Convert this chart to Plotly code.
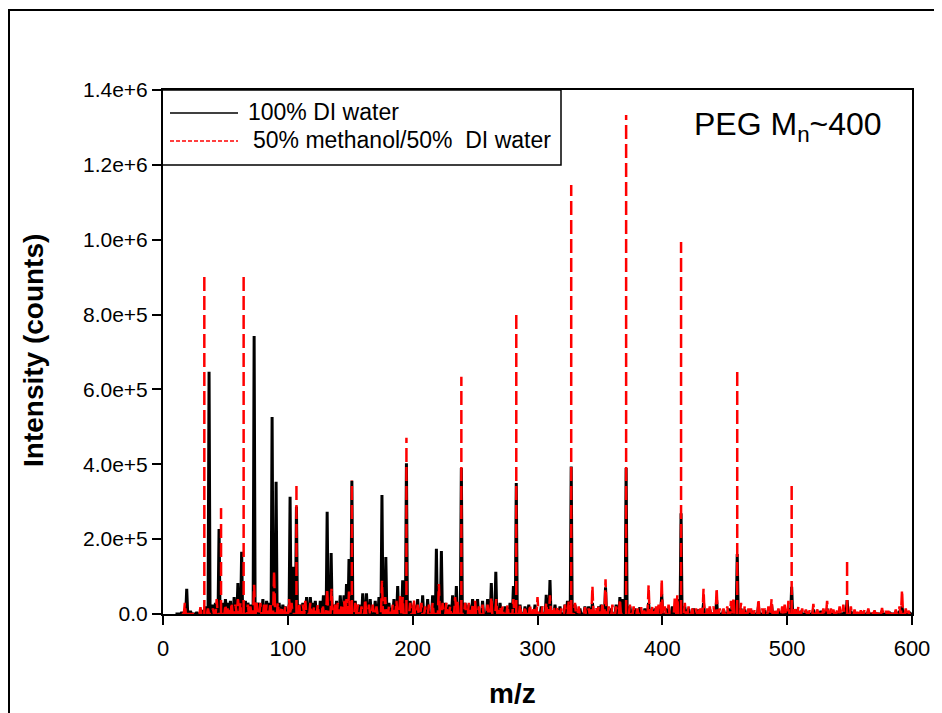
import plotly.graph_objects as go

# ---------------- data ----------------
# 100% DI water : peak m/z and intensity (counts)
water_mz = [15, 19, 22, 27, 31, 34, 36.9, 40, 42, 44.9, 48, 50, 52, 54, 57, 60, 63, 66, 68, 70,
            73, 76, 78, 80, 83, 85, 87.4, 90.6, 93, 96, 98, 101.8, 104.6, 106.9, 110, 112, 115, 118,
            120, 122, 126, 128.5, 131.5, 134.7, 137, 139, 142, 145, 147, 149, 151.3, 154, 157, 160,
            163, 166, 170, 173, 175.4, 178.5, 181, 185, 188, 192, 195, 198, 201, 204, 208, 212, 216,
            219, 223, 226, 229, 232, 235, 239, 242, 245, 248, 252, 256, 260, 263, 266.6, 270, 274,
            278, 280.7, 283, 286, 290, 293, 298, 303, 307, 310, 314, 318, 322, 324, 327, 330, 334,
            338, 341, 344, 349, 351, 354.5, 359, 363, 366, 368, 371, 374, 378, 382, 386, 389, 394,
            397, 399.5, 404, 408, 412, 415, 418, 421, 425, 429, 433, 438, 443.5, 449, 453, 456, 460,
            463, 466, 471, 477, 482, 487.5, 493, 498, 501, 503.6, 507, 511, 515, 521, 527, 532, 537,
            542, 546, 548, 551, 554, 560, 565, 570, 576, 582, 587, 590, 592, 595, 598]
water_int = [5e3, 67e3, 8e3, 5e3, 10e3, 20e3, 647e3, 25e3, 30e3, 227e3, 30e3, 40e3, 30e3, 35e3, 45e3,
             83e3, 166e3, 35e3, 30e3, 25e3, 743e3, 30e3, 25e3, 40e3, 35e3, 30e3, 526e3, 353e3, 30e3,
             25e3, 20e3, 313e3, 126e3, 287e3, 25e3, 30e3, 45e3, 45e3, 30e3, 35e3, 35e3, 50e3, 273e3,
             163e3, 25e3, 35e3, 50e3, 50e3, 80e3, 147e3, 356e3, 35e3, 25e3, 55e3, 55e3, 40e3, 35e3,
             45e3, 318e3, 152e3, 30e3, 40e3, 75e3, 90e3, 403e3, 35e3, 25e3, 40e3, 50e3, 40e3, 50e3,
             174e3, 168e3, 30e3, 25e3, 50e3, 75e3, 390e3, 30e3, 25e3, 40e3, 40e3, 35e3, 40e3, 83e3,
             113e3, 30e3, 20e3, 30e3, 75e3, 350e3, 25e3, 20e3, 25e3, 25e3, 20e3, 51e3, 91e3, 25e3,
             20e3, 25e3, 35e3, 394e3, 25e3, 15e3, 20e3, 20e3, 30e3, 20e3, 25e3, 71e3, 15e3, 25e3,
             45e3, 40e3, 390e3, 20e3, 15e3, 18e3, 15e3, 30e3, 15e3, 20e3, 53e3, 15e3, 20e3, 40e3,
             269e3, 20e3, 15e3, 15e3, 12e3, 30e3, 12e3, 37e3, 12e3, 15e3, 25e3, 160e3, 15e3, 12e3,
             10e3, 20e3, 10e3, 25e3, 10e3, 12e3, 15e3, 73e3, 12e3, 8e3, 8e3, 12e3, 8e3, 15e3, 6e3,
             8e3, 10e3, 37e3, 8e3, 6e3, 5e3, 8e3, 5e3, 8e3, 5e3, 6e3, 8e3, 20e3, 6e3, 5e3]

# 50% methanol / 50% DI water : peak m/z and intensity (counts)
meoh_mz = [17.5, 30, 33.1, 36, 40, 43, 46.5, 50, 52, 55, 58, 60, 62, 64.6, 68, 70, 73, 75, 78, 81,
           83, 86, 89, 92, 95, 98, 101, 103, 106.9, 109, 112, 114, 118, 121, 124, 128, 131.5, 135,
           138, 140, 143, 145, 147, 149, 151.3, 154, 156, 159, 162, 165, 168, 171, 175.4, 178, 181,
           184, 187, 190, 192, 195, 198, 201, 204, 207, 210, 213, 216, 221, 224, 227, 230, 234, 236,
           239, 242, 245, 248, 250, 253, 256, 260, 263, 267, 270, 272, 276, 280.7, 283, 286, 290,
           294, 297, 300, 304, 307, 310, 313, 316, 319, 322, 325, 327, 330, 333, 338, 341, 344, 347,
           349, 352, 354.5, 357, 360, 363, 366, 371, 374, 377, 380, 383, 386, 389, 392, 395, 397,
           399.5, 402, 405, 410, 412, 415, 418, 421, 424, 427, 430, 433, 436, 438, 441, 443.5, 446,
           449, 452, 455, 457, 460, 463, 466, 469, 471, 474, 477, 480, 482, 485, 487.5, 490, 493,
           496, 498, 501, 503.6, 506, 509, 512, 515, 518, 521, 524, 526, 529, 532, 535, 537, 540,
           542, 545, 548, 551, 554, 557, 559, 562, 565, 568, 570, 573, 576, 579, 581, 584, 587, 590,
           592, 595, 597]
meoh_int = [30e3, 18e3, 906e3, 15e3, 15e3, 40e3, 283e3, 25e3, 20e3, 30e3, 25e3, 40e3, 30e3, 906e3,
            25e3, 20e3, 78e3, 30e3, 30e3, 25e3, 25e3, 30e3, 115e3, 30e3, 20e3, 20e3, 40e3, 30e3,
            345e3, 30e3, 25e3, 35e3, 30e3, 20e3, 25e3, 25e3, 67e3, 67e3, 25e3, 30e3, 25e3, 35e3,
            40e3, 60e3, 357e3, 30e3, 25e3, 20e3, 40e3, 25e3, 25e3, 20e3, 89e3, 45e3, 20e3, 25e3,
            35e3, 50e3, 45e3, 471e3, 30e3, 40e3, 25e3, 30e3, 20e3, 25e3, 30e3, 80e3, 30e3, 30e3,
            20e3, 45e3, 35e3, 634e3, 30e3, 30e3, 25e3, 35e3, 20e3, 25e3, 25e3, 45e3, 40e3, 20e3,
            20e3, 25e3, 40e3, 812e3, 25e3, 20e3, 25e3, 20e3, 45e3, 20e3, 30e3, 50e3, 20e3, 20e3,
            15e3, 25e3, 35e3, 1146e3, 30e3, 20e3, 18e3, 15e3, 75e3, 20e3, 20e3, 30e3, 93e3, 20e3,
            25e3, 20e3, 40e3, 1333e3, 25e3, 20e3, 15e3, 18e3, 15e3, 77e3, 20e3, 20e3, 25e3, 93e3,
            20e3, 25e3, 45e3, 50e3, 994e3, 30e3, 20e3, 15e3, 15e3, 20e3, 67e3, 15e3, 20e3, 20e3,
            70e3, 15e3, 15e3, 20e3, 35e3, 45e3, 657e3, 30e3, 20e3, 15e3, 15e3, 12e3, 40e3, 15e3,
            15e3, 20e3, 40e3, 15e3, 15e3, 20e3, 25e3, 35e3, 351e3, 20e3, 20e3, 15e3, 12e3, 10e3,
            27e3, 12e3, 10e3, 15e3, 35e3, 15e3, 12e3, 10e3, 20e3, 25e3, 147e3, 20e3, 12e3, 10e3,
            10e3, 12e3, 15e3, 8e3, 10e3, 10e3, 16e3, 8e3, 8e3, 10e3, 12e3, 20e3, 64e3, 15e3, 10e3]

series_names = ["100% DI water", "50% methanol/50%\u00a0 DI water"]
x_ticks = [0, 100, 200, 300, 400, 500, 600]
y_ticks = [0, 2e5, 4e5, 6e5, 8e5, 1.0e6, 1.2e6, 1.4e6]
y_ticklabels = ["0.0", "2.0e+5", "4.0e+5", "6.0e+5", "8.0e+5", "1.0e+6", "1.2e+6", "1.4e+6"]

# ---------------- build line paths from the peak lists ----------------
HW = 0.8  # half width of a peak (m/z)


def peak_path(mzs, ints, start=10, end=600):
    xs, ys = [start], [0]
    for m, h in zip(mzs, ints):
        xs += [m - HW, m, m + HW]
        ys += [0, h, 0]
    xs.append(end)
    ys.append(0)
    return xs, ys


BIG = 120e3
small_m = [m for m, h in zip(meoh_mz, meoh_int) if h < BIG]
small_h = [h for m, h in zip(meoh_mz, meoh_int) if h < BIG]
rx, ry = peak_path(small_m, small_h, start=15, end=599)
for m, h in zip(meoh_mz, meoh_int):
    if h >= BIG:
        rx += [None, m, m]
        ry += [None, 0, h]

bx, by = peak_path(water_mz, water_int)

fig = go.Figure()
fig.add_trace(go.Scatter(x=bx, y=by, mode="lines", name=series_names[0],
                         line=dict(color="black", width=3), showlegend=False))
fig.add_trace(go.Scatter(x=rx, y=ry, mode="lines", name=series_names[1],
                         line=dict(color="#ff0000", width=2.5, dash="14px,5px"),
                         connectgaps=False, showlegend=False))

# page body has an 8px margin: screen coordinates -> figure coordinates
OFF = 8
W, H = 934, 705
L, T = 163 - OFF, 90 - OFF
R = W - (912 - OFF)
B = H - (614 - OFF)
PW, PH = W - L - R, H - T - B


def px(x):
    return (x - OFF - L) / PW


def py(y):
    return (H - B - (y - OFF)) / PH


font = "Arial, Liberation Sans, sans-serif"
shapes = [
    # outer figure frame
    dict(type="rect", xref="paper", yref="paper", x0=px(9), x1=px(990), y0=py(760), y1=py(10),
         line=dict(color="black", width=2)),
    # legend box
    dict(type="rect", xref="paper", yref="paper", x0=px(162), x1=px(561), y0=py(165), y1=py(90),
         line=dict(color="black", width=1.5)),
    dict(type="line", xref="paper", yref="paper", x0=px(170), x1=px(238), y0=py(113), y1=py(113),
         line=dict(color="black", width=1.5)),
    dict(type="line", xref="paper", yref="paper", x0=px(170), x1=px(238), y0=py(141), y1=py(141),
         line=dict(color="#ff0000", width=1.5, dash="4px,2px")),
]
annotations = [
    dict(text=series_names[0], xref="paper", yref="paper", x=px(246), y=py(112), xanchor="left",
         yanchor="middle", showarrow=False, font=dict(family=font, size=23, color="black")),
    dict(text=series_names[1], xref="paper", yref="paper", x=px(251), y=py(140), xanchor="left",
         yanchor="middle", showarrow=False, font=dict(family=font, size=23, color="black")),
    dict(text="PEG M<sub>n</sub>~400", xref="paper", yref="paper", x=px(692), y=py(126),
         xanchor="left", yanchor="middle", showarrow=False,
         font=dict(family=font, size=32, color="black")),
    dict(text="<b>Intensity (counts)</b>", xref="paper", yref="paper", x=px(33), y=py(351),
         xanchor="center", yanchor="middle", textangle=-90, showarrow=False,
         font=dict(family=font, size=28, color="black")),
    dict(text="<b>m/z</b>", xref="paper", yref="paper", x=px(512), y=py(693),
         xanchor="center", yanchor="middle", showarrow=False,
         font=dict(family=font, size=28, color="black")),
]

fig.update_layout(
    width=W, height=H,
    margin=dict(l=L, r=R, t=T, b=B, pad=0),
    paper_bgcolor="white", plot_bgcolor="white",
    showlegend=False,
    shapes=shapes, annotations=annotations,
    font=dict(family=font, color="black"),
)
fig.update_xaxes(range=[0, 600], tickvals=x_ticks, ticktext=[str(v) for v in x_ticks],
                 ticks="outside", ticklen=9, tickwidth=2, tickcolor="black",
                 showline=True, linewidth=2, linecolor="black", mirror=True,
                 showgrid=False, zeroline=False, tickfont=dict(family=font, size=22),
                 ticklabelstandoff=5)
fig.update_yaxes(range=[0, 1.4e6], tickvals=y_ticks, ticktext=y_ticklabels,
                 ticks="outside", ticklen=9, tickwidth=2, tickcolor="black",
                 showline=True, linewidth=2, linecolor="black", mirror=True,
                 showgrid=False, zeroline=False, tickfont=dict(family=font, size=21))

fig.write_html("out.html")
